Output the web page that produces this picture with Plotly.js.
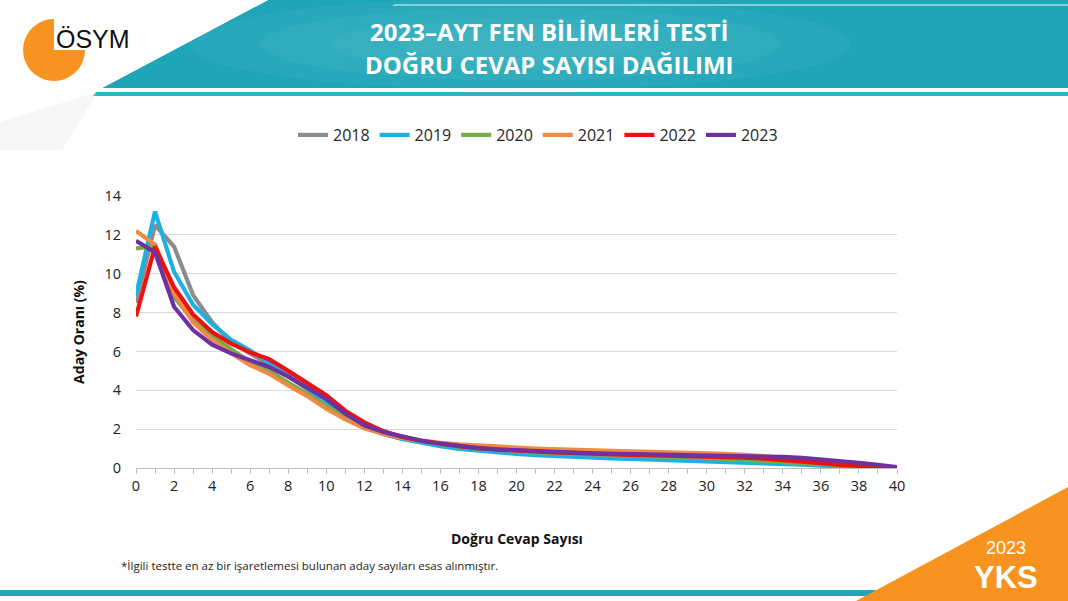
<!DOCTYPE html>
<html>
<head>
<meta charset="utf-8">
<script src="https://cdn.plot.ly/plotly-3.0.1.min.js"></script>
<style>html,body{margin:0;padding:0;background:#fff;}#chart{width:1068px;height:601px;}</style>
</head>
<body>
<div id="chart"></div>
<script>
// ---- data ----
const correctCounts = Array.from({length: 41}, (_, i) => i);
const years = ["2018", "2019", "2020", "2021", "2022", "2023"];
const y2018 = [8.5,12.5,11.4,8.9,7.5,6.5,5.9,5.35,4.75,4.05,3.35,2.65,2.1,1.75,1.5,1.32,1.15,1.02,0.92,0.84,0.77,0.71,0.66,0.62,0.58,0.55,0.52,0.49,0.46,0.44,0.41,0.38,0.34,0.3,0.25,0.2,0.15,0.1,0.05,0.02,0.01];
const y2019 = [8.9,13.2,10.1,8.4,7.4,6.6,6.05,5.4,4.8,4.1,3.4,2.7,2.15,1.75,1.5,1.3,1.12,0.98,0.88,0.8,0.72,0.66,0.61,0.57,0.53,0.5,0.47,0.44,0.42,0.4,0.37,0.34,0.3,0.26,0.22,0.17,0.12,0.08,0.04,0.02,0.01];
const y2020 = [11.3,11.4,8.8,7.6,6.8,6.1,5.45,5.0,4.4,3.85,3.2,2.6,2.1,1.8,1.55,1.38,1.22,1.1,1.0,0.92,0.86,0.8,0.76,0.72,0.69,0.66,0.63,0.6,0.57,0.54,0.51,0.47,0.43,0.38,0.32,0.26,0.19,0.12,0.07,0.03,0.01];
const y2021 = [12.2,11.5,9.0,7.5,6.6,5.9,5.3,4.85,4.25,3.7,3.05,2.5,2.05,1.75,1.55,1.4,1.3,1.22,1.15,1.1,1.05,1.0,0.96,0.93,0.9,0.88,0.86,0.84,0.82,0.8,0.77,0.73,0.68,0.62,0.55,0.46,0.36,0.25,0.15,0.07,0.02];
const y2022 = [7.8,11.4,9.3,7.9,7.0,6.4,5.95,5.6,5.0,4.4,3.75,2.95,2.35,1.9,1.6,1.4,1.25,1.12,1.02,0.95,0.9,0.85,0.8,0.76,0.72,0.7,0.68,0.66,0.64,0.62,0.6,0.57,0.53,0.48,0.42,0.34,0.25,0.16,0.09,0.04,0.02];
const y2023 = [11.7,11.1,8.3,7.1,6.35,5.9,5.55,5.2,4.7,4.15,3.55,2.8,2.2,1.85,1.6,1.4,1.25,1.12,1.02,0.95,0.9,0.86,0.82,0.79,0.76,0.74,0.72,0.71,0.7,0.69,0.68,0.66,0.63,0.6,0.57,0.52,0.45,0.37,0.27,0.16,0.05];
const xTickVals = [0,2,4,6,8,10,12,14,16,18,20,22,24,26,28,30,32,34,36,38,40];
const yTickVals = [0,2,4,6,8,10,12,14];

const seriesValues = [y2018, y2019, y2020, y2021, y2022, y2023];
const colors = ["#8c8c8c", "#1fb0e2", "#72ad47", "#ee8a45", "#ee1111", "#7030a0"];

// ---- layout helpers (pixel -> paper) ----
const L = 136, R = 897, T = 196, B = 468;
const px = x => (x - L) / (R - L);
const py = y => (B - y) / (B - T);

const traces = seriesValues.map((vals, i) => ({
  type: "scatter", mode: "lines", name: years[i],
  x: correctCounts, y: vals,
  line: {color: colors[i], width: 4.2}
}));

const shapes = [
  // header teal band
  {type: "path", xref: "paper", yref: "paper", layer: "below",
   path: `M ${px(268)} ${py(0)} L ${px(1068)} ${py(0)} L ${px(1068)} ${py(88)} L ${px(102)} ${py(88)} Z`,
   fillcolor: "#1fa5b8", line: {width: 0}}
];
// soft glow in the middle of the header
[[330, 0.07], [260, 0.07], [190, 0.07], [120, 0.07]].forEach(([w, op]) => {
  shapes.push({type: "circle", xref: "paper", yref: "paper", layer: "below",
    x0: px(520 - w), x1: px(520 + w), y0: py(44 - w * 0.14), y1: py(44 + w * 0.14),
    fillcolor: `rgba(150,225,232,${op})`, line: {width: 0}});
});
shapes.push(
  {type: "path", xref: "paper", yref: "paper", layer: "below",
   path: `M ${px(395)} ${py(4)} L ${px(1068)} ${py(4)} L ${px(1068)} ${py(6)} L ${px(392)} ${py(6)} Z`,
   fillcolor: "rgba(255,255,255,0.45)", line: {width: 0}},
  // thin teal line under header
  {type: "path", xref: "paper", yref: "paper", layer: "below",
   path: `M ${px(96)} ${py(92)} L ${px(1068)} ${py(92)} L ${px(1068)} ${py(96)} L ${px(93)} ${py(96)} Z`,
   fillcolor: "#2db3c3", line: {width: 0}},
  // white cover on the diagonal so glow stays within the band
  {type: "path", xref: "paper", yref: "paper", layer: "below",
   path: `M ${px(0)} ${py(0)} L ${px(268)} ${py(0)} L ${px(102)} ${py(88)} L ${px(0)} ${py(88)} Z`,
   fillcolor: "#ffffff", line: {width: 0}},
  // grey shadow wedge at left
  {type: "path", xref: "paper", yref: "paper", layer: "below",
   path: `M ${px(0)} ${py(122)} L ${px(98)} ${py(92)} L ${px(62)} ${py(150)} L ${px(0)} ${py(150)} Z`,
   fillcolor: "rgba(215,215,215,0.22)", line: {width: 0}},
  // orange logo (three-quarter disc)
  {type: "path", xref: "paper", yref: "paper", layer: "below",
   path: (() => {
     const cx = 54, cy = 50, r = 31; let p = `M ${px(cx)} ${py(cy)} L ${px(cx + r)} ${py(cy)}`;
     for (let a = 0; a <= 270; a += 10) {
       const rad = a * Math.PI / 180;
       p += ` L ${px(cx + r * Math.cos(rad))} ${py(cy + r * Math.sin(rad))}`;
     }
     return p + " Z";
   })(),
   fillcolor: "#f7931e", line: {width: 0}},
  // bottom teal line
  {type: "rect", xref: "paper", yref: "paper", layer: "below",
   x0: px(0), x1: px(890), y0: py(590), y1: py(596),
   fillcolor: "#1ea5b7", line: {width: 0}},
  // orange corner triangle
  {type: "path", xref: "paper", yref: "paper", layer: "below",
   path: `M ${px(856)} ${py(601)} L ${px(1068)} ${py(487)} L ${px(1068)} ${py(601)} Z`,
   fillcolor: "#f7931e", line: {width: 0}}
);

const ann = (text, x, y, size, opts = {}) => Object.assign({
  text, x: px(x), y: py(y), xref: "paper", yref: "paper",
  xanchor: "center", yanchor: "middle", showarrow: false,
  font: {family: "Open Sans", size, color: "#111111"}
}, opts);

const annotations = [
  ann("2023–AYT FEN BİLİMLERİ TESTİ", 549, 32, 24, {font: {family: "Open Sans", size: 24, color: "#ffffff", weight: "bold"}}),
  ann("DOĞRU CEVAP SAYISI DAĞILIMI", 549, 64, 24, {font: {family: "Open Sans", size: 24, color: "#ffffff", weight: "bold"}}),
  ann("ÖSYM", 54, 39, 25, {xanchor: "left", font: {family: "Liberation Sans", size: 25, color: "#111111"}}),
  ann("Doğru Cevap Sayısı", 517, 538, 14, {font: {family: "Open Sans", size: 14, color: "#111111", weight: "bold"}}),
  ann("*İlgili testte en az bir işaretlemesi bulunan aday sayıları esas alınmıştır.", 119, 565, 11.5,
      {xanchor: "left", font: {family: "Open Sans", size: 11.5, color: "#222222"}}),
  ann("2023", 1006, 548, 18, {font: {family: "Liberation Sans", size: 18, color: "#ffffff"}}),
  ann("YKS", 1006, 577, 31, {font: {family: "Liberation Sans", size: 31, color: "#ffffff", weight: "bold"}})
];

const layout = {
  width: 1068, height: 601,
  margin: {l: L, r: 1068 - R, t: T, b: 601 - B, pad: 0},
  paper_bgcolor: "#ffffff", plot_bgcolor: "#ffffff",
  showlegend: true,
  legend: {orientation: "h", x: px(538), xanchor: "center", y: py(135), yanchor: "middle",
           font: {family: "Open Sans", size: 16, color: "#262626"}, itemwidth: 30, tracegroupgap: 0},
  xaxis: {range: [0, 40], tickvals: xTickVals, ticktext: xTickVals.map(String),
          showgrid: false, zeroline: false, showline: true, linecolor: "#bfbfbf", linewidth: 1,
          ticks: "outside", ticklen: 5, tickcolor: "#bfbfbf",
          minor: {dtick: 1, ticks: "outside", ticklen: 5, tickcolor: "#bfbfbf", showgrid: false},
          tickfont: {family: "Open Sans", size: 14.5, color: "#222222"}, fixedrange: true},
  yaxis: {range: [0, 14], tickvals: yTickVals, ticktext: yTickVals.map(String),
          showgrid: true, gridcolor: "#d9d9d9", gridwidth: 1, zeroline: false, showline: false,
          ticks: "", tickfont: {family: "Open Sans", size: 14.5, color: "#222222"},
          ticklabelstandoff: 14,
          title: {text: "Aday Oranı (%)", standoff: 16,
                  font: {family: "Open Sans", size: 14, color: "#111111", weight: "bold"}},
          fixedrange: true},
  shapes: shapes,
  annotations: annotations
};

Plotly.newPlot("chart", traces, layout, {displayModeBar: false, staticPlot: true});
</script>
</body>
</html>
